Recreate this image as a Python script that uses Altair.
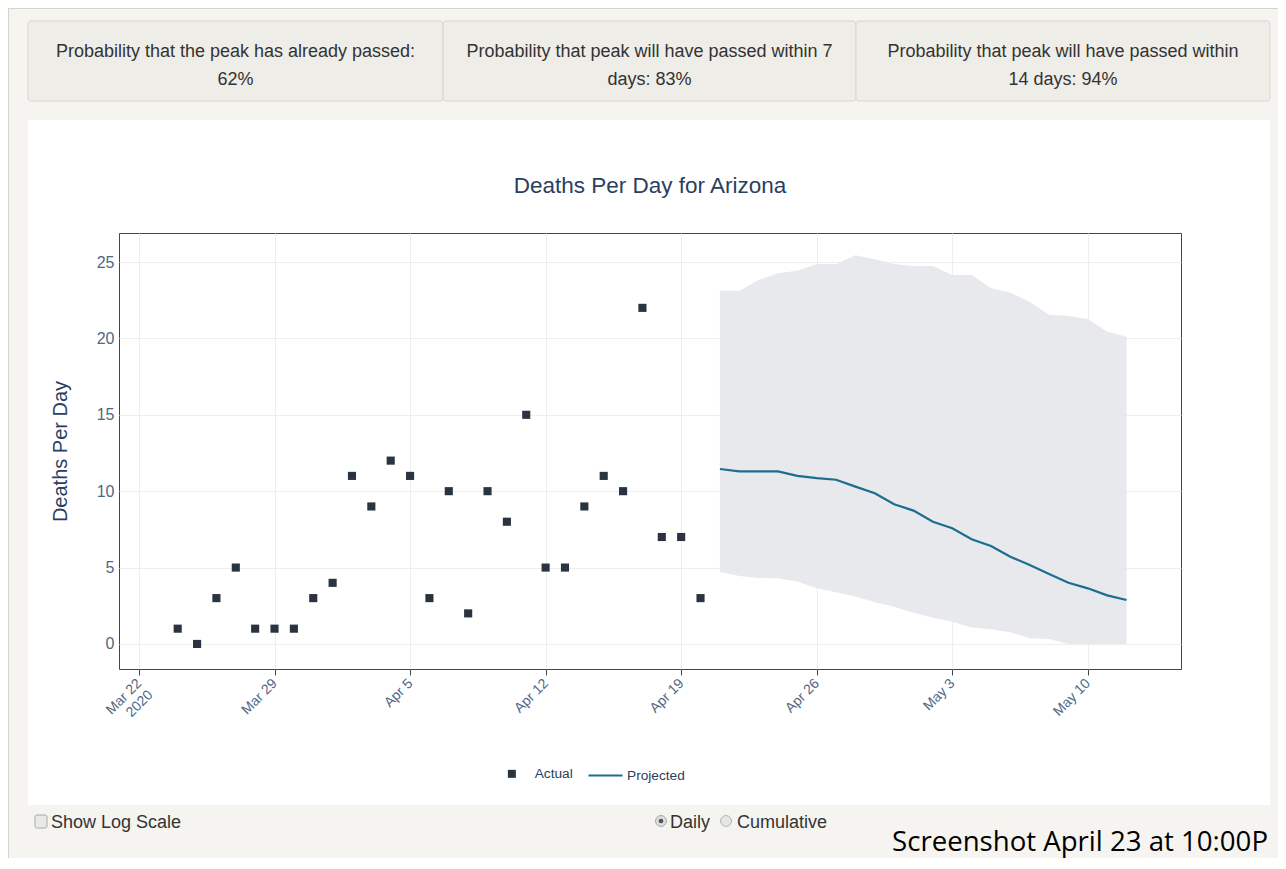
import altair as alt
import pandas as pd
from datetime import datetime, timezone

# ---------------- data ----------------
actual_dates = pd.date_range("2020-03-24", "2020-04-20", freq="D").strftime("%Y-%m-%d").tolist()
actual_values = [1, 0, 3, 5, 1, 1, 1, 3, 4, 11, 9, 12, 11, 3, 10, 2, 10, 8, 15, 5, 5, 9, 11, 10, 22, 7, 7, 3]

proj_dates = pd.date_range("2020-04-21", "2020-05-12", freq="D").strftime("%Y-%m-%d").tolist()
proj_values = [11.45, 11.3, 11.3, 11.3, 11.0, 10.86, 10.75, 10.3, 9.86, 9.14, 8.73, 8.0,
               7.57, 6.85, 6.41, 5.71, 5.17, 4.58, 4.01, 3.64, 3.18, 2.88]
proj_upper = [23.12, 23.12, 23.82, 24.26, 24.43, 24.87, 24.87, 25.44, 25.18, 24.87, 24.74, 24.74,
              24.15, 24.15, 23.28, 22.99, 22.4, 21.55, 21.47, 21.27, 20.44, 20.11]
proj_lower = [4.73, 4.45, 4.32, 4.3, 4.08, 3.64, 3.38, 3.1, 2.73, 2.44, 2.05, 1.72,
              1.46, 1.07, 0.96, 0.77, 0.37, 0.33, 0, 0, 0, 0]

tick_dates = ["2020-03-22", "2020-03-29", "2020-04-05", "2020-04-12",
              "2020-04-19", "2020-04-26", "2020-05-03", "2020-05-10"]
y_ticks = [0, 5, 10, 15, 20, 25]

chart_title = "Deaths Per Day for Arizona"
y_title = "Deaths Per Day"
box_texts = [
    ["Probability that the peak has already passed:", "62%"],
    ["Probability that peak will have passed within 7", "days: 83%"],
    ["Probability that peak will have passed within", "14 days: 94%"],
]
log_label = "Show Log Scale"
radio_labels = ["Daily", "Cumulative"]
stamp_text = "Screenshot April 23 at 10:00P"


def ms(s):
    return int(datetime.fromisoformat(s).replace(tzinfo=timezone.utc).timestamp() * 1000)


actual_df = pd.DataFrame({"date": actual_dates, "value": actual_values, "series": "Actual"})
proj_df = pd.DataFrame({"date": proj_dates, "value": proj_values, "upper": proj_upper,
                        "lower": proj_lower, "series": "Projected"})

# ---------------- styles ----------------
FONT = "Liberation Sans"
DARK = "#2a3440"
BLUE = "#1b6d91"
TXT = "#2a3f5f"
LBL = "#506784"
BEIGE = "#f5f4f0"
W, H = 1062, 436

x_scale = alt.Scale(type="utc", domain=[ms("2020-03-20T23:15:00"), ms("2020-05-14T19:30:00")], nice=False)
y_scale = alt.Scale(domain=[-1.64, 26.9], nice=False, zero=False)

x_axis = alt.Axis(
    values=[ms(d) for d in tick_dates],
    labelExpr="datum.index == 0 ? [utcFormat(datum.value, '%b %-d'), '2020'] : utcFormat(datum.value, '%b %-d')",
    labelAngle=-45, labelAlign="right", labelBaseline="middle", labelFontSize=14, labelColor=LBL,
    labelFont=FONT, labelPadding=6, ticks=True, tickSize=6, tickColor="#444", domain=False,
    grid=True, gridColor="#eeeeee", title=None, labelOverlap=False, labelBound=False,
)
y_axis = alt.Axis(
    values=y_ticks, labelFontSize=16, labelColor=LBL, labelFont=FONT, labelPadding=5,
    ticks=False, domain=False, grid=True, gridColor="#eeeeee", title=y_title,
    titleFontSize=20, titleFontWeight="normal", titleColor=TXT, titleFont=FONT, titlePadding=26,
)

X = alt.X("date:T", scale=x_scale, axis=x_axis)
Y = alt.Y("value:Q", scale=y_scale, axis=y_axis)

leg_common = dict(orient="none", direction="horizontal", title=None, labelFontSize=13.7,
                  labelColor=TXT, labelFont=FONT)
fill = alt.Fill("series:N", scale=alt.Scale(domain=["Actual"], range=[DARK]),
                legend=alt.Legend(legendX=386, legendY=534, symbolType="square", symbolSize=64,
                                  labelOffset=16, symbolStrokeWidth=0, **leg_common))
stroke = alt.Stroke("series:N", scale=alt.Scale(domain=["Projected"], range=[BLUE]),
                    legend=alt.Legend(legendX=468, legendY=524, symbolType="stroke", symbolSize=1156,
                                      labelOffset=3, symbolStrokeWidth=2.2, **leg_common))

band = alt.Chart(proj_df).mark_area(color="#e6e7ea", opacity=0.92).encode(
    x=X, y=alt.Y("upper:Q", scale=y_scale, axis=y_axis), y2="lower:Q"
)
points = alt.Chart(actual_df).mark_point(shape="square", filled=True, opacity=1, size=66, strokeWidth=0).encode(
    x=X, y=Y, fill=fill
)
line = alt.Chart(proj_df).mark_line(strokeWidth=2.2).encode(x=X, y=Y, stroke=stroke)

# ---------------- page decorations ----------------
deco = alt.Data(values=[{}])


def rect(x, x2, y, y2, **kw):
    return alt.Chart(deco).mark_rect(**kw).encode(
        x=alt.value(x), x2=alt.value(x2), y=alt.value(y), y2=alt.value(y2))


def text(x, y, t, **kw):
    kw.setdefault("font", FONT)
    return alt.Chart(deco).mark_text(text=t, **kw).encode(x=alt.value(x), y=alt.value(y))


def dot(x, y, **kw):
    return alt.Chart(deco).mark_point(shape="circle", opacity=1, **kw).encode(x=alt.value(x), y=alt.value(y))


L, R, T, B = -111, 1159, -225, 625
layers = [
    rect(L, R, T, -113, color=BEIGE),
    rect(L, -91, -113, 572, color=BEIGE),
    rect(1151, R, -113, 572, color=BEIGE),
    rect(L, R, 572, B, color=BEIGE),
    rect(L, R, T, T + 1, color="#d6d3ca"),
    rect(L, L + 1, T, B, color="#d6d3ca"),
]
box_edges = [(-91, 324), (324, 737), (737, 1151)]
for (bx0, bx1), lines in zip(box_edges, box_texts):
    layers.append(rect(bx0, bx1, -212, -132, fill="#efede8", stroke="#d8d5cc", strokeWidth=1, cornerRadius=3))
    layers.append(text((bx0 + bx1) / 2, -176.5, lines, fontSize=18, color="#333333", align="center",
                       baseline="alphabetic", lineHeight=28))

layers += [
    text(531, -40, chart_title, fontSize=22.5, color=TXT, align="center", baseline="alphabetic"),
    rect(-84, -72, 582, 595, fill="#e9e9e9", stroke="#a9a9a9", strokeWidth=1, cornerRadius=2),
    text(-68, 595, log_label, fontSize=18, color="#333333", align="left", baseline="alphabetic"),
    dot(542, 588, size=120, filled=True, fill="#dddddd", stroke="#a9a9a9", strokeWidth=1),
    dot(542, 588, size=22, filled=True, fill="#555555"),
    text(551, 595, radio_labels[0], fontSize=18, color="#333333", align="left", baseline="alphabetic"),
    dot(607, 588, size=120, filled=True, fill="#e6e6e6", stroke="#b5b5b5", strokeWidth=1),
    text(618, 595, radio_labels[1], fontSize=18, color="#333333", align="left", baseline="alphabetic"),
    text(1149, 618, stamp_text, fontSize=27.6, color="#000000", align="right", baseline="alphabetic",
         font="Open Sans"),
]

chart = alt.layer(*layers, band, points, line).resolve_legend(fill="independent", stroke="independent").properties(
    width=W, height=H,
    background="white",
    padding={"left": 111, "top": 225, "right": 97, "bottom": 189},
    autosize=alt.AutoSizeParams(type="none"),
).configure_view(stroke="#444444", strokeWidth=1)

chart.save("out.html", embed_options={"renderer": "svg", "actions": False})
